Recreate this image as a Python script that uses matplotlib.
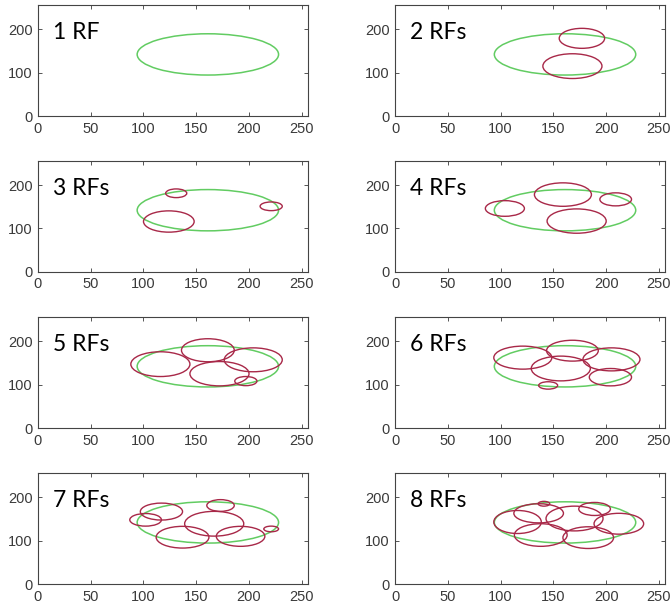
import matplotlib
matplotlib.use("Agg")
import matplotlib.pyplot as plt
from matplotlib.patches import Ellipse

# Campo receptivo global (verde)
big_cx, big_cy, big_w, big_h = 161, 142, 134, 95

# RFs por panel: centro x, centro y, ancho, alto
rf_cx = [
    [],
    [177, 168],
    [131, 124, 221],
    [104, 159, 209, 172],
    [116, 161, 204, 172, 197],
    [121, 168, 205, 157, 204, 145],
    [102, 117, 173, 167, 137, 192, 221],
    [141, 136, 116, 170, 189, 212, 138, 183],
]
rf_cy = [
    [],
    [179, 115],
    [181, 116, 151],
    [146, 178, 167, 117],
    [147, 179, 157, 125, 108],
    [162, 178, 158, 137, 117, 98],
    [148, 167, 181, 139, 108, 110, 127],
    [185, 163, 143, 151, 173, 139, 113, 107],
]
rf_w = [
    [],
    [43, 56],
    [20, 48, 21],
    [37, 54, 30, 56],
    [56, 50, 55, 56, 21],
    [55, 49, 54, 56, 40, 18],
    [30, 40, 26, 56, 50, 46, 14],
    [11, 47, 45, 54, 30, 47, 50, 48],
]
rf_h = [
    [],
    [46, 57],
    [20, 49, 20],
    [36, 54, 30, 56],
    [57, 53, 55, 56, 21],
    [53, 48, 53, 57, 40, 17],
    [29, 39, 27, 57, 50, 46, 13],
    [11, 44, 53, 57, 30, 48, 52, 50],
]
labels = ["1 RF", "2 RFs", "3 RFs", "4 RFs", "5 RFs", "6 RFs", "7 RFs", "8 RFs"]

green = "#62cc62"
red = "#a82848"

fig = plt.figure(figsize=(6.72, 6.11), dpi=100)
lefts = [0.0565, 0.588]
bottoms = [0.810, 0.555, 0.2995, 0.044]

for i in range(8):
    row, col = divmod(i, 2)
    ax = fig.add_axes([lefts[col], bottoms[row], 0.402, 0.182])
    ax.add_patch(Ellipse((big_cx, big_cy), big_w, big_h, fill=False,
                         edgecolor=green, lw=1.1))
    for cx, cy, w, h in zip(rf_cx[i], rf_cy[i], rf_w[i], rf_h[i]):
        ax.add_patch(Ellipse((cx, cy), w, h, fill=False, edgecolor=red, lw=1.0))
    ax.set_xlim(0, 256)
    ax.set_ylim(0, 256)
    ax.set_xticks([0, 50, 100, 150, 200, 250])
    ax.set_yticks([0, 100, 200])
    ax.tick_params(direction="in", top=True, right=True, length=3,
                   colors="#3a3a3a", labelsize=10.5, pad=4, width=0.6)
    for lab in ax.get_xticklabels() + ax.get_yticklabels():
        lab.set_family("Liberation Sans")
    for s in ax.spines.values():
        s.set_color("#444444")
        s.set_linewidth(0.8)
    ax.text(0.055, 0.75, labels[i], transform=ax.transAxes, fontsize=16.5,
            va="center", ha="left", color="black", family="Lato")

fig.savefig("out.png", dpi=100)
